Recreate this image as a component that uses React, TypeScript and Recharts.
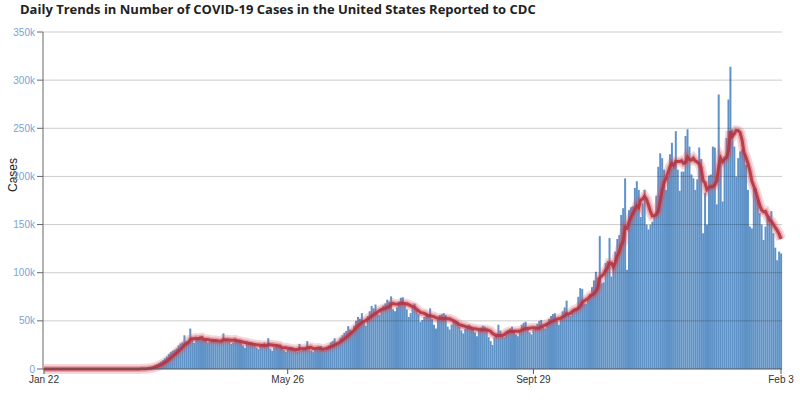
import React from 'react';
import { ComposedChart, Bar, Line, XAxis, YAxis, ReferenceLine } from 'recharts';

// Chart text
const chartTitle = 'Daily Trends in Number of COVID-19 Cases in the United States Reported to CDC';
const yAxisTitle = 'Cases';

// Day 0 is Jan 22, 2020; one bar per reported day up to Feb 3, 2021
const startDate = Date.UTC(2020, 0, 22);
const monthNames = ['Jan', 'Feb', 'Mar', 'Apr', 'May', 'June', 'July', 'Aug', 'Sept', 'Oct', 'Nov', 'Dec'];
const xTickDays = [0, 125, 251, 378];
const yTicks = [0, 50000, 100000, 150000, 200000, 250000, 300000, 350000];

// New cases per day
const dailyCases = [
  1, 0, 1, 0, 3, 0, 0, 0, 0, 1,
  1, 1, 3, 0, 0, 1, 0, 0, 0, 0,
  1, 0, 1, 0, 0, 0, 0, 0, 0, 0,
  0, 2, 0, 0, 0, 0, 1, 0, 2, 8,
  7, 15, 25, 30, 45, 60, 100, 120, 170, 280,
  390, 550, 750, 1100, 1500, 2300, 3200, 4300, 5200, 6300,
  7700, 9200, 11000, 13000, 15500, 17500, 19000, 20000, 21500, 24500,
  26500, 27500, 35000, 29000, 28500, 42000, 31000, 27000, 31500, 32000,
  33000, 31000, 30000, 29500, 27500, 28500, 30000, 31000, 30500, 28000,
  27000, 29000, 37000, 31000, 30500, 28500, 26000, 27500, 31000, 30000,
  29500, 27500, 24500, 22000, 26000, 27000, 28000, 26500, 25000, 22000,
  20500, 24000, 26000, 27500, 25500, 32000, 21000, 19000, 22500, 24000,
  25000, 23500, 21500, 19500, 18000, 20000, 21500, 22500, 21000, 20000,
  18000, 26000, 19000, 20500, 22000, 29000, 21500, 19000, 17500, 20000,
  22000, 23000, 24000, 20500, 19000, 22000, 24500, 27500, 29000, 32000,
  27500, 25500, 32500, 35000, 37500, 39500, 44500, 41000, 39000, 45000,
  50000, 54000, 52000, 58000, 48000, 45000, 55000, 60000, 65500, 63000,
  67000, 57000, 56000, 63000, 66000, 68000, 72000, 70000, 75500, 62000,
  60000, 64000, 70000, 74000, 74500, 69000, 62000, 54000, 58000, 64000,
  68000, 61000, 57000, 49000, 51000, 54000, 58000, 57000, 63000, 52000,
  46000, 42000, 53000, 56000, 57000, 58000, 56000, 44000, 41000, 46000,
  50000, 49000, 48000, 44000, 40000, 37000, 42000, 45000, 46000, 44000,
  41000, 38000, 34000, 40000, 43000, 45000, 44000, 41000, 33000, 29000,
  25000, 33000, 37000, 46000, 40000, 35000, 33000, 38000, 40000, 42000,
  44000, 41000, 36000, 34000, 40000, 46000, 48000, 49000, 42000, 38000,
  36000, 41000, 44000, 47000, 50000, 51000, 44000, 42000, 48000, 52000,
  55000, 57000, 58000, 50000, 46000, 52000, 60000, 64000, 71000, 57000,
  55000, 60000, 62000, 63000, 75000, 84000, 83000, 68000, 68000, 72000,
  78000, 85000, 92000, 101000, 95000, 138000, 89000, 90000, 110000, 112000,
  136000, 96000, 110000, 122000, 135000, 139000, 160000, 167000, 198000, 103000,
  165000, 168000, 169000, 188000, 195000, 186000, 158000, 172000, 186000, 150000,
  145000, 150000, 153000, 160000, 180000, 210000, 224000, 219000, 207000, 186000,
  200000, 223000, 235000, 211000, 247000, 207000, 185000, 205000, 205000, 242000,
  249000, 231000, 202000, 198000, 186000, 197000, 230000, 218000, 141000, 183000,
  150000, 201000, 202000, 231000, 230000, 171000, 285000, 214000, 174000, 221000,
  240000, 280000, 314000, 249000, 231000, 200000, 219000, 226000, 228000, 223000,
  212000, 186000, 148000, 146000, 188000, 188000, 175000, 162000, 150000, 134000,
  148000, 157000, 159000, 164000, 141000, 126000, 113000, 122000, 120000,
];

const dayLabel = (day: number) => {
  const d = new Date(startDate + day * 86400000);
  return `${monthNames[d.getUTCMonth()]} ${d.getUTCDate()}`;
};

// 7-day trailing average for the red trend line
const chartData = dailyCases.map((cases, i) => {
  const win = dailyCases.slice(Math.max(0, i - 6), i + 1);
  return { day: i, cases, avg: win.reduce((s, v) => s + v, 0) / win.length };
});

const narrowFont = '"Liberation Sans Narrow", "Arial Narrow", "Liberation Sans", sans-serif';

const App: React.FC = () => {
  return (
    <div style={{ position: 'absolute', left: 0, top: 0, width: 800, height: 400, background: '#fff' }}>
      <div
        style={{
          position: 'absolute', left: 20, top: 0, fontFamily: '"Open Sans", sans-serif',
          fontWeight: 700, fontSize: 13, color: '#222', whiteSpace: 'nowrap',
        }}
      >
        {chartTitle}
      </div>
      <div
        style={{
          position: 'absolute', left: 13, top: 175, transform: 'translate(-50%, -50%) rotate(-90deg)',
          fontFamily: '"Liberation Sans", Arial, sans-serif', fontSize: 12, color: '#222',
        }}
      >
        {yAxisTitle}
      </div>
      <ComposedChart
        width={800}
        height={400}
        data={chartData}
        margin={{ top: 32, right: 18, left: 0, bottom: 0 }}
        barCategoryGap="3%"
      >
        <XAxis
          dataKey="day"
          type="category"
          ticks={xTickDays}
          interval={0}
          tickFormatter={dayLabel}
          height={31}
          tickSize={5}
          axisLine={{ stroke: '#555' }}
          tickLine={{ stroke: '#555' }}
          tick={{ fill: '#333', fontSize: 10, fontFamily: narrowFont }}
        />
        <YAxis
          domain={[0, 350000]}
          ticks={yTicks}
          interval={0}
          width={43}
          tickSize={6}
          tickFormatter={(v: number) => (v === 0 ? '0' : `${v / 1000}k`)}
          axisLine={{ stroke: '#666' }}
          tickLine={{ stroke: '#666' }}
          tick={{ fill: '#7aa3d5', fontSize: 10, fontFamily: narrowFont }}
        />
        <Bar dataKey="cases" fill="#5f93c8" isAnimationActive={false} />
        {yTicks.slice(1).map((v) => (
          <ReferenceLine key={v} y={v} stroke="rgba(0,0,0,0.2)" strokeWidth={1} />
        ))}
        <Line type="linear" dataKey="avg" stroke="#d85a66" strokeOpacity={0.25} strokeWidth={10} dot={false} activeDot={false} isAnimationActive={false} />
        <Line type="linear" dataKey="avg" stroke="#c8424f" strokeOpacity={0.35} strokeWidth={6} dot={false} activeDot={false} isAnimationActive={false} />
        <Line type="linear" dataKey="avg" stroke="#b5343f" strokeOpacity={0.9} strokeWidth={3} dot={false} activeDot={false} isAnimationActive={false} />
      </ComposedChart>
    </div>
  );
};

export default App;
